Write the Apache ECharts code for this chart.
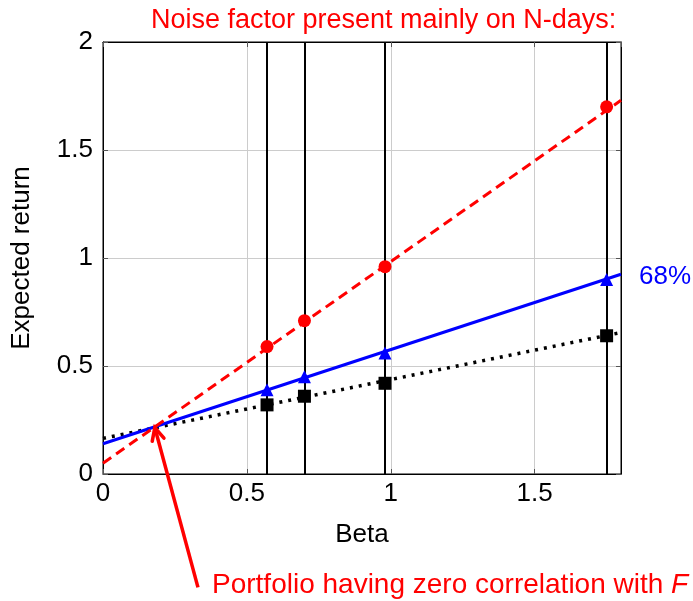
<!DOCTYPE html>
<html><head><meta charset="utf-8">
<script src="https://cdn.jsdelivr.net/npm/echarts@6/dist/echarts.min.js"></script>
<style>html,body{margin:0;padding:0;background:#fff}#c{width:693px;height:601px}</style>
</head><body><div id="c"></div>
<script>
const betas = [0.57, 0.70, 0.98, 1.75];
const redPoints = [0.59, 0.71, 0.96, 1.70];
const bluePoints = [0.39, 0.45, 0.56, 0.90];
const blackPoints = [0.32, 0.36, 0.42, 0.64];
const lineX = [0, 1.8];
const redLine = [0.05, 1.73];
const blueLine = [0.14, 0.925];
const blackLine = [0.165, 0.655];
const arrowTail = [0.33, -0.525];
const arrowTip = [0.18, 0.215];
const blueLabel = '68%';
const titleText = 'Noise factor present mainly on N-days:';

const FONT = 'Liberation Sans';
const pts = (ys) => betas.map((b, i) => [b, ys[i]]);
const ln = (ys) => lineX.map((x, i) => [x, ys[i]]);

const chart = echarts.init(document.getElementById('c'));
const axisCommon = {
  axisLine: {show: true, onZero: false, lineStyle: {color: '#000', width: 1}},
  axisTick: {show: true, inside: true, length: 5, lineStyle: {color: '#555'}}
};
const gridLine = {show: true, lineStyle: {color: '#cccccc', width: 1}};
chart.setOption({
  animation: false,
  textStyle: {fontFamily: FONT},
  title: [
    {text: titleText, left: 146, top: 2, textStyle: {color: '#ff0000', fontSize: 27, fontWeight: 'normal', fontFamily: FONT}},
    {text: 'Portfolio having zero correlation with {i|F}', left: 207, top: 566,
     textStyle: {color: '#ff0000', fontSize: 28, fontWeight: 'normal', fontFamily: FONT,
       rich: {i: {fontStyle: 'italic', color: '#ff0000', fontSize: 28, fontFamily: FONT}}}}
  ],
  grid: {left: 103, right: 72, top: 42, bottom: 127, show: true, borderColor: '#000', borderWidth: 1, backgroundColor: 'transparent'},
  xAxis: [
    Object.assign({type: 'value', min: 0, max: 1.8, interval: 0.5, position: 'bottom',
      name: 'Beta', nameLocation: 'middle', nameGap: 48,
      nameTextStyle: {fontSize: 26, color: '#000', fontFamily: FONT},
      axisLabel: {fontSize: 26, color: '#000', margin: 7, fontFamily: FONT, showMaxLabel: false}}, axisCommon,
      {splitLine: gridLine}),
    Object.assign({type: 'value', min: 0, max: 1.8, interval: 0.5, position: 'top', axisLabel: {show: false}, splitLine: {show: false}}, axisCommon)
  ],
  yAxis: [
    Object.assign({type: 'value', min: 0, max: 2, interval: 0.5, position: 'left',
      name: 'Expected return', nameLocation: 'middle', nameGap: 68,
      nameTextStyle: {fontSize: 26, color: '#000', fontFamily: FONT},
      axisLabel: {fontSize: 26, color: '#000', margin: 10, fontFamily: FONT}}, axisCommon,
      {splitLine: gridLine}),
    Object.assign({type: 'value', min: 0, max: 2, interval: 0.5, position: 'right', axisLabel: {show: false}, splitLine: {show: false}}, axisCommon)
  ],
  series: [
    {type: 'line', data: [], markLine: {silent: true, symbol: ['none', 'none'], label: {show: false},
      lineStyle: {color: '#000', width: 2, type: 'solid'},
      data: betas.map(b => ({xAxis: b}))}},
    {type: 'line', data: ln(blackLine), showSymbol: false, symbol: 'none',
      lineStyle: {color: '#000', width: 3.5, type: [3, 6]}},
    {type: 'line', data: ln(blueLine), showSymbol: false, symbol: 'none',
      lineStyle: {color: '#0000ff', width: 3},
      endLabel: {show: true, formatter: blueLabel, color: '#0000ff', fontSize: 26, fontFamily: FONT, offset: [10, 3]}},
    {type: 'line', data: ln(redLine), showSymbol: false, symbol: 'none',
      lineStyle: {color: '#ff0000', width: 3, type: [10, 6]}},
    {type: 'scatter', data: pts(blackPoints), symbol: 'rect', symbolSize: 13, itemStyle: {color: '#000', opacity: 1}, z: 5},
    {type: 'scatter', data: pts(bluePoints), symbol: 'triangle', symbolSize: 13, itemStyle: {color: '#0000ff', opacity: 1}, z: 5},
    {type: 'scatter', data: pts(redPoints), symbol: 'circle', symbolSize: 13, itemStyle: {color: '#ff0000', opacity: 1}, z: 5}
  ]
});

// annotation arrow, positioned through the axes
const tail = chart.convertToPixel({gridIndex: 0}, arrowTail);
const tip = chart.convertToPixel({gridIndex: 0}, arrowTip);
const ang = Math.atan2(tip[1] - tail[1], tip[0] - tail[0]);
const headLen = 14, spread = 0.45;
const a1 = [tip[0] - headLen * Math.cos(ang - spread), tip[1] - headLen * Math.sin(ang - spread)];
const a2 = [tip[0] - headLen * Math.cos(ang + spread), tip[1] - headLen * Math.sin(ang + spread)];
chart.setOption({
  graphic: [
    {type: 'line', z: 100, shape: {x1: tail[0], y1: tail[1], x2: tip[0] - 2 * Math.cos(ang), y2: tip[1] - 2 * Math.sin(ang)},
      style: {stroke: '#ff0000', lineWidth: 3.5}},
    {type: 'polyline', z: 100, shape: {points: [a1, tip, a2]},
      style: {stroke: '#ff0000', lineWidth: 3.5, fill: null, lineJoin: 'miter', lineCap: 'round'}}
  ]
});
</script></body></html>
